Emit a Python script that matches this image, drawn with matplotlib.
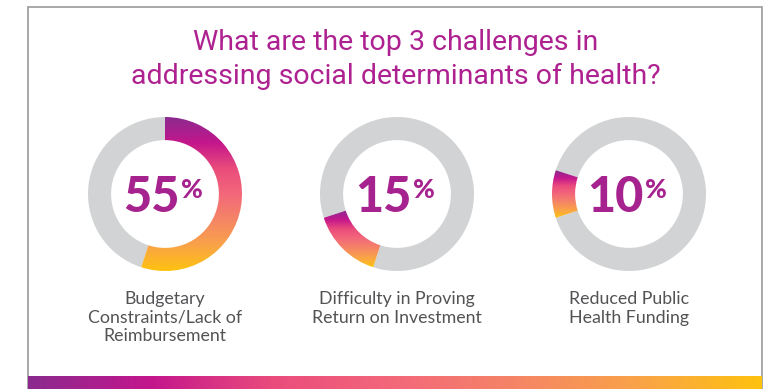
import matplotlib
matplotlib.use("Agg")
import matplotlib.pyplot as plt
import numpy as np
from matplotlib.colors import LinearSegmentedColormap

title = "What are the top 3 challenges in\naddressing social determinants of health?"
challenges = ["Budgetary\nConstraints/Lack of\nReimbursement",
              "Difficulty in Proving\nReturn on Investment",
              "Reduced Public\nHealth Funding"]
percents = [55, 15, 10]

W, H = 768, 389
centers_x = [165, 397, 629]
center_y = 194
radius = 77

grad_cmap = LinearSegmentedColormap.from_list(
    "brand", ["#8B2A8F", "#C4168C", "#EA4C7C", "#F3687A", "#F58566", "#F9A348", "#FEC20F"])
gray_ring = "#D1D3D4"
num_color = "#A6228E"

fig = plt.figure(figsize=(W / 100, H / 100), dpi=100)
fig.patch.set_facecolor("white")

# background axes in pixel units
ax = fig.add_axes([0, 0, 1, 1])
ax.set_xlim(0, W)
ax.set_ylim(H, 0)
ax.axis("off")

# frame
ax.plot([28, 28, 762, 762], [H, 6.5, 6.5, H], color="#9A9A9A", lw=1.2, solid_joinstyle="miter")

# gradient strip at the bottom
strip = np.linspace(0, 1, 512).reshape(1, -1)
ax.imshow(strip, cmap=grad_cmap, extent=[28, 762, H, 376], aspect="auto", zorder=2)

ax.text(396, 29, title, ha="center", va="top", fontsize=20.5, color="#AE2190",
        family=["Roboto", "DejaVu Sans"], linespacing=1.32)

start = 0
for cx, pct, lab in zip(centers_x, percents, challenges):
    dax = fig.add_axes([(cx - radius) / W, (H - center_y - radius) / H,
                        2 * radius / W, 2 * radius / H])
    wedges, _ = dax.pie([pct, 100 - pct], startangle=90 - start * 3.6, counterclock=False,
                        colors=["none", gray_ring], radius=1,
                        wedgeprops=dict(width=0.3, linewidth=0))
    seg = wedges[0]
    ext = seg.get_path().get_extents()
    grad = np.linspace(0, 1, 256).reshape(-1, 1)
    im = dax.imshow(grad, cmap=grad_cmap, extent=[ext.x0, ext.x1, ext.y0, ext.y1],
                    origin="upper", aspect="auto", zorder=3)
    im.set_clip_path(seg)
    dax.set_xlim(-1, 1)
    dax.set_ylim(-1, 1)
    dax.set_aspect("equal")
    dax.axis("off")

    dax.text(15 / radius, -18 / radius, str(pct), ha="right", va="baseline",
             fontsize=35, fontweight="black", family="Lato", color=num_color)
    dax.text(16 / radius, 16 / radius, "%", ha="left", va="top",
             fontsize=19, fontweight="black", family="Lato", color=num_color)

    ax.text(cx, 291, lab, ha="center", va="top", fontsize=12.8, color="#535356",
            family="Lato", linespacing=1.2)
    start += pct

fig.savefig("out.png", dpi=100)
